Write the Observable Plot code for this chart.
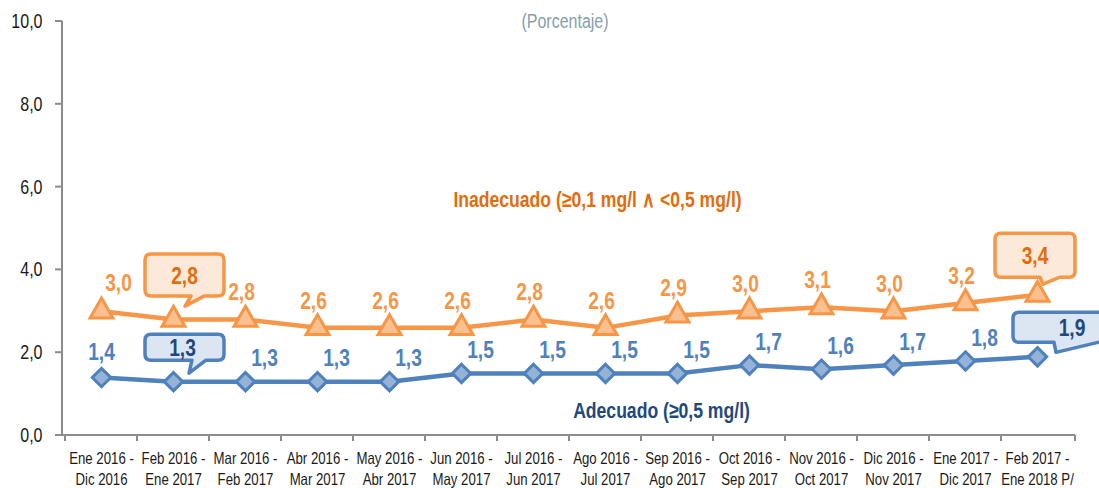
<!DOCTYPE html>
<html><head><meta charset="utf-8">
<script src="https://cdn.jsdelivr.net/npm/d3@7"></script>
<script src="https://cdn.jsdelivr.net/npm/@observablehq/plot@0.6"></script>
<style>
html,body{margin:0;padding:0;background:#fff;overflow:hidden;}
#chart svg{display:block;}
</style></head><body><div id="chart"></div>
<script>
const categories = [
  "Ene 2016 -\nDic 2016", "Feb 2016 -\nEne 2017", "Mar 2016 -\nFeb 2017", "Abr 2016 -\nMar 2017",
  "May 2016 -\nAbr 2017", "Jun 2016 -\nMay 2017", "Jul 2016 -\nJun 2017", "Ago 2016 -\nJul 2017",
  "Sep 2016 -\nAgo 2017", "Oct 2016 -\nSep 2017", "Nov 2016 -\nOct 2017", "Dic 2016 -\nNov 2017",
  "Ene 2017 -\nDic 2017", "Feb 2017 -\nEne 2018 P/"
];
const inadecuado = [3.0, 2.8, 2.8, 2.6, 2.6, 2.6, 2.8, 2.6, 2.9, 3.0, 3.1, 3.0, 3.2, 3.4];
const adecuado   = [1.4, 1.3, 1.3, 1.3, 1.3, 1.5, 1.5, 1.5, 1.5, 1.7, 1.6, 1.7, 1.8, 1.9];
const yTicks = [0, 2, 4, 6, 8, 10];
const calloutIndices = [1, 13];
const seriesNames = ["Inadecuado (≥0,1 mg/l ∧ <0,5 mg/l)", "Adecuado (≥0,5 mg/l)"];
const unitLabel = "(Porcentaje)";

const FONT = '"Liberation Sans", Arial, sans-serif';
const NARROW = 0.8;  // horizontal compression to imitate a condensed typeface
const fmt = v => v.toFixed(1).replace(".", ",");

const data = categories.map((c, i) => ({cat: c, i, ina: inadecuado[i], ade: adecuado[i]}));
const plain = data.filter(d => !calloutIndices.includes(d.i));
const firstPt = plain.filter(d => d.i === 0);
const restPts = plain.filter(d => d.i !== 0);
const boxed = data.filter(d => calloutIndices.includes(d.i));

const ORANGE = "#f79646", ORANGE_FILL = "#fac090", ORANGE_DARK = "#e46c0a", ORANGE_BOX = "#fde9d9";
const BLUE = "#4f81bd", BLUE_FILL = "#95b3d7", BLUE_DARK = "#1f497d", BLUE_BOX = "#dce6f2";

function axesFrame(index, scales, values, dim) {
  const g = d3.create("svg:g").attr("stroke", "#8c8c8c").attr("stroke-width", 2).attr("fill", "none");
  const x0 = dim.marginLeft, x1 = dim.width - dim.marginRight;
  const yb = scales.y(0), yt = scales.y(d3.max(yTicks));
  g.append("line").attr("x1", x0).attr("x2", x0).attr("y1", yt).attr("y2", yb);
  g.append("line").attr("x1", x0).attr("x2", x1).attr("y1", yb).attr("y2", yb);
  for (const t of yTicks) g.append("line").attr("x1", x0 - 7).attr("x2", x0).attr("y1", scales.y(t)).attr("y2", scales.y(t));
  const bounds = categories.map(c => scales.x(c)).concat([x1]);
  for (const b of bounds) g.append("line").attr("x1", b).attr("x2", b).attr("y1", yb).attr("y2", yb + 6);
  return g.node();
}

function calloutPath(x0, y0, w, h, r, b1, b2, tx, ty) {
  const x1 = x0 + w, y1 = y0 + h;
  return `M${x0 + r},${y0}H${x1 - r}Q${x1},${y0} ${x1},${y0 + r}V${y1 - r}Q${x1},${y1} ${x1 - r},${y1}` +
    `H${b2}L${tx},${ty}L${b1},${y1}H${x0 + r}Q${x0},${y1} ${x0},${y1 - r}V${y0 + r}Q${x0},${y0} ${x0 + r},${y0}Z`;
}

function callouts(index, scales, values, dim) {
  const g = d3.create("svg:g");
  const bw = scales.x.bandwidth ? scales.x.bandwidth() : 0;
  const specs = [];
  for (const d of boxed) {
    const first = d.i === calloutIndices[0];
    specs.push({d, v: d.ina, stroke: ORANGE, fill: ORANGE_BOX, text: ORANGE_DARK,
      box: first ? [-28, -65, 79, 42] : [-42, -61, 80, 44], tx: 0,
      base: first ? [18, 31] : [3, 23], tip: first ? [12, -13] : [6, -10]});
    specs.push({d, v: d.ade, stroke: BLUE, fill: BLUE_BOX, text: BLUE_DARK,
      box: first ? [-28, -47, 79, 26] : [-24, -44, 110, 30], tx: first ? -2 : 19,
      base: first ? [19, 33] : [17, 61], tip: first ? [16, -8] : [19, -4]});
  }
  for (const s of specs) {
    const px = scales.x(s.d.cat) + bw / 2, py = scales.y(s.v);
    const [bx, by, w, h] = s.box;
    g.append("path")
      .attr("d", calloutPath(px + bx, py + by, w, h, 6, px + s.base[0], px + s.base[1], px + s.tip[0], py + s.tip[1]))
      .attr("fill", s.fill).attr("stroke", s.stroke).attr("stroke-width", 3.5).attr("stroke-linejoin", "round");
    const cx = (w > 100 ? px + bx + 40 : px + bx + w / 2) + s.tx;
    g.append("text").attr("transform", `translate(${cx},${py + by + h / 2})`).attr("dy", "0.36em")
      .attr("text-anchor", "middle").attr("fill", s.text).attr("font-weight", "bold")
      .attr("font-size", 24).attr("font-family", FONT).text(fmt(s.v));
  }
  return g.node();
}

const labelStyle = {fontWeight: "bold", fontSize: 24};
const chart = Plot.plot({
  width: 1099, height: 488,
  marginLeft: 62, marginRight: 24, marginTop: 21, marginBottom: 53,
  style: {fontFamily: FONT, background: "#fff", overflow: "visible"},
  x: {type: "band", domain: categories, padding: 0},
  y: {domain: [0, 10]},
  marks: [
    axesFrame,
    Plot.axisY({ticks: yTicks, tickFormat: fmt, tickSize: 0, tickPadding: 20, fontSize: 20, fill: "#1a1a1a", label: null}),
    Plot.axisX({tickSize: 0, tickPadding: 14, fontSize: 16.5, lineHeight: 1.27, fill: "#1a1a1a", label: null}),
    Plot.line(data, {x: "cat", y: "ina", stroke: ORANGE, strokeWidth: 4.5}),
    Plot.line(data, {x: "cat", y: "ade", stroke: BLUE, strokeWidth: 4.5}),
    Plot.dot(data, {x: "cat", y: "ina", symbol: "triangle", r: 8.5, fill: ORANGE_FILL, stroke: ORANGE, strokeWidth: 3}),
    Plot.dot(data, {x: "cat", y: "ade", symbol: "diamond2", r: 8.3, fill: BLUE_FILL, stroke: BLUE, strokeWidth: 3}),
    Plot.text(firstPt, {x: "cat", y: "ina", text: d => fmt(d.ina), dx: 17, dy: -28, fill: ORANGE, ...labelStyle}),
    Plot.text(restPts, {x: "cat", y: "ina", text: d => fmt(d.ina), dx: -4, dy: -27, fill: ORANGE, ...labelStyle}),
    Plot.text(firstPt, {x: "cat", y: "ade", text: d => fmt(d.ade), dx: 0, dy: -25, fill: BLUE, ...labelStyle}),
    Plot.text(restPts, {x: "cat", y: "ade", text: d => fmt(d.ade), dx: 19, dy: -23, fill: BLUE, ...labelStyle}),
    callouts,
    Plot.text([seriesNames[0]], {x: [categories[7]], y: [5.68], text: d => d, dx: -8, fill: ORANGE_DARK, fontWeight: "bold", fontSize: 22}),
    Plot.text([seriesNames[1]], {x: [categories[8]], y: [0.6], text: d => d, dx: -16, fill: BLUE_DARK, fontWeight: "bold", fontSize: 22}),
    Plot.text([unitLabel], {frameAnchor: "top", dx: -4, dy: -8, text: d => d, fill: "#87a0ab", fontSize: 20})
  ]
});
// compress every text horizontally about its own anchor (imitates a condensed typeface)
chart.querySelectorAll("text").forEach(t => {
  const x = +(t.getAttribute("x") || 0);
  const tr = t.getAttribute("transform") || "";
  t.setAttribute("transform", `${tr} translate(${x},0) scale(${NARROW},1) translate(${-x},0)`);
});
document.getElementById("chart").append(chart);
</script></body></html>
